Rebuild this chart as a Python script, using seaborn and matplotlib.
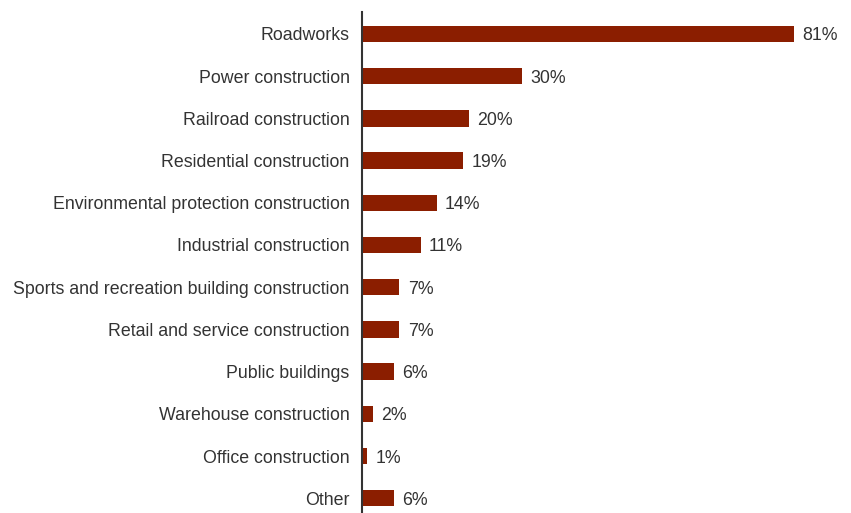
import matplotlib
matplotlib.use("Agg")
import matplotlib.pyplot as plt
import seaborn as sns
import pandas as pd

categories = [
    "Roadworks",
    "Power construction",
    "Railroad construction",
    "Residential construction",
    "Environmental protection construction",
    "Industrial construction",
    "Sports and recreation building construction",
    "Retail and service construction",
    "Public buildings",
    "Warehouse construction",
    "Office construction",
    "Other",
]
shares = [81, 30, 20, 19, 14, 11, 7, 7, 6, 2, 1, 6]

df = pd.DataFrame({"category": categories, "share": shares})

sns.set_theme(style="white")
plt.rcParams["font.family"] = ["Liberation Sans", "DejaVu Sans"]

fig = plt.figure(figsize=(8.51, 5.13), dpi=100)
ax = fig.add_axes([0.4254, 0.0, 0.56, 1 - 12 / 513])

bar_color = "#8B1E00"
text_color = "#333333"

sns.barplot(data=df, x="share", y="category", orient="h", color=bar_color,
            saturation=1, width=0.39, linewidth=0, ax=ax)

ax.set_xlim(0, 89.4)
ax.set_ylim(11.35, -0.52)

for i, v in enumerate(shares):
    ax.annotate(f"{v}%", xy=(v, i), xytext=(6, 0), textcoords="offset points",
                ha="left", va="center_baseline", fontsize=12.8, color=text_color)

ax.set_xlabel("")
ax.set_ylabel("")
ax.set_xticks([])
ax.tick_params(axis="y", length=0, pad=9, labelsize=12.8, labelcolor=text_color)
for label in ax.get_yticklabels():
    label.set_verticalalignment("center_baseline")
for s in ["top", "right", "bottom"]:
    ax.spines[s].set_visible(False)
ax.spines["left"].set_color("#333333")
ax.spines["left"].set_linewidth(1.5)

fig.savefig("out.png", dpi=100)
